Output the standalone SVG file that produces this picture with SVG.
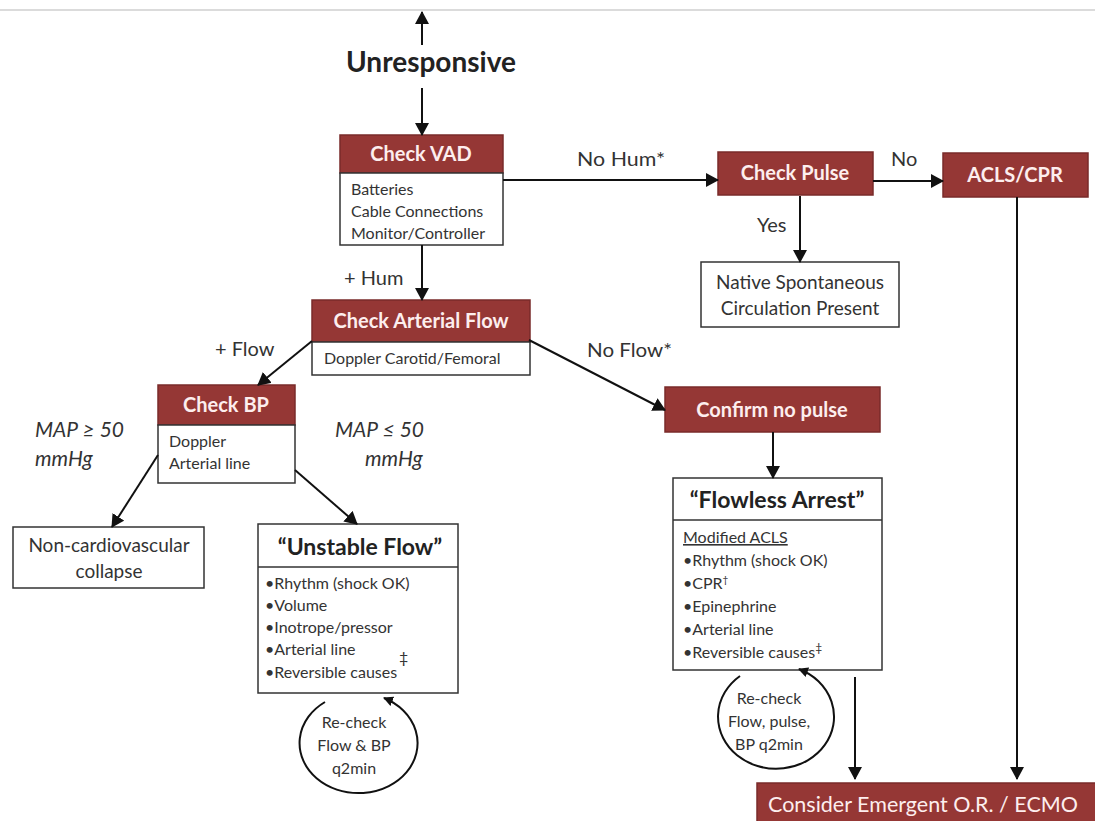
<svg xmlns="http://www.w3.org/2000/svg" width="1095" height="821" viewBox="0 0 1095 821">
<defs>
<marker id="ah" markerUnits="userSpaceOnUse" markerWidth="14" markerHeight="14" refX="12" refY="7" orient="auto">
<path d="M0,0 L13,7 L0,14 Z" fill="#111"/>
</marker>
<marker id="ahs" markerUnits="userSpaceOnUse" markerWidth="10" markerHeight="10" refX="9" refY="5" orient="auto">
<path d="M0,0 L10,5 L0,10 Z" fill="#111"/>
</marker>
<style>
.hd{fill:#953735;stroke:#7a2b2a;stroke-width:1.5}
.bx{fill:#fff;stroke:#333;stroke-width:1.5}
.ht{font-family:Lato,"Liberation Sans",sans-serif;font-weight:bold;font-size:20px;fill:#fdeeee;text-anchor:middle}
.bt{font-family:Lato,"Liberation Sans",sans-serif;font-size:16px;fill:#333}
.ct{font-family:Lato,"Liberation Sans",sans-serif;font-size:19px;fill:#333;text-anchor:middle}
.rc{font-family:Lato,"Liberation Sans",sans-serif;font-size:16px;fill:#333;text-anchor:middle}
.lb{font-family:Lato,"Liberation Sans",sans-serif;font-size:20px;fill:#333}
.it{font-family:Lato,"Liberation Sans",sans-serif;font-size:21px;font-style:italic;fill:#333}
.tt{font-family:Lato,"Liberation Sans",sans-serif;font-weight:bold;font-size:23px;fill:#222;text-anchor:middle}
.cn line,.cn path{stroke:#111;stroke-width:2;fill:none}
</style>
</defs>
<rect width="1095" height="821" fill="#fff"/>
<line x1="0" y1="10" x2="1095" y2="10" stroke="#cfcfcf" stroke-width="1.5"/>

<g id="unresponsive">
<text x="431" y="72" font-family="Lato,'Liberation Sans',sans-serif" font-weight="bold" font-size="28" fill="#222" text-anchor="middle">Unresponsive</text>
</g>

<g id="check-vad">
<rect class="hd" x="340" y="135" width="163" height="38"/>
<text class="ht" x="421" y="161">Check VAD</text>
<rect class="bx" x="340" y="173" width="163" height="72"/>
<text class="bt" x="351" y="195">Batteries</text>
<text class="bt" x="351" y="217">Cable Connections</text>
<text class="bt" x="351" y="239">Monitor/Controller</text>
</g>

<g id="check-pulse">
<rect class="hd" x="718" y="152" width="155" height="43"/>
<text class="ht" x="795" y="180">Check Pulse</text>
</g>

<g id="acls-cpr">
<rect class="hd" x="943" y="153" width="145" height="44"/>
<text class="ht" x="1015" y="182">ACLS/CPR</text>
</g>

<g id="native">
<rect class="bx" x="701" y="262" width="198" height="65"/>
<text class="ct" x="800" y="289">Native Spontaneous</text>
<text class="ct" x="800" y="315">Circulation Present</text>
</g>

<g id="check-arterial-flow">
<rect class="hd" x="312" y="300" width="218" height="42"/>
<text class="ht" x="421" y="328">Check Arterial Flow</text>
<rect class="bx" x="312" y="342" width="218" height="33"/>
<text class="bt" x="324" y="364">Doppler Carotid/Femoral</text>
</g>

<g id="check-bp">
<rect class="hd" x="158" y="385" width="137" height="40"/>
<text class="ht" x="226" y="412">Check BP</text>
<rect class="bx" x="158" y="425" width="137" height="58"/>
<text class="bt" x="169" y="447">Doppler</text>
<text class="bt" x="169" y="469">Arterial line</text>
</g>

<g id="non-cardio">
<rect class="bx" x="13" y="527" width="191" height="61"/>
<text class="ct" x="109" y="552">Non-cardiovascular</text>
<text class="ct" x="109" y="578">collapse</text>
</g>

<g id="unstable-flow">
<rect class="bx" x="258" y="524" width="200" height="169"/>
<line x1="258" y1="567" x2="458" y2="567" stroke="#333" stroke-width="1.5"/>
<text class="tt" x="360" y="555">“Unstable Flow”</text>
<text class="bt" x="265" y="589">•Rhythm (shock OK)</text>
<text class="bt" x="265" y="611">•Volume</text>
<text class="bt" x="265" y="633">•Inotrope/pressor</text>
<text class="bt" x="265" y="655">•Arterial line</text>
<text class="bt" x="265" y="678">•Reversible causes</text>
<text class="bt" x="399" y="663">‡</text>
</g>

<g id="recheck-1">
<text class="rc" x="354" y="728">Re-check</text>
<text class="rc" x="354" y="751">Flow &amp; BP</text>
<text class="rc" x="354" y="774">q2min</text>
</g>

<g id="confirm-no-pulse">
<rect class="hd" x="665" y="387" width="215" height="45"/>
<text class="ht" x="772" y="417">Confirm no pulse</text>
</g>

<g id="flowless-arrest">
<rect class="bx" x="673" y="478" width="209" height="192"/>
<line x1="673" y1="520" x2="882" y2="520" stroke="#333" stroke-width="1.5"/>
<text class="tt" x="777" y="508">“Flowless Arrest”</text>
<text class="bt" x="683" y="543" text-decoration="underline">Modified ACLS</text>
<text class="bt" x="683" y="566">•Rhythm (shock OK)</text>
<text class="bt" x="683" y="589">•CPR<tspan font-size="10" dy="-6">†</tspan></text>
<text class="bt" x="683" y="612">•Epinephrine</text>
<text class="bt" x="683" y="635">•Arterial line</text>
<text class="bt" x="683" y="658">•Reversible causes<tspan font-size="12" dy="-6">‡</tspan></text>
</g>

<g id="recheck-2">
<text class="rc" x="769" y="704">Re-check</text>
<text class="rc" x="769" y="727">Flow, pulse,</text>
<text class="rc" x="769" y="750">BP q2min</text>
</g>

<g id="consider-emergent">
<rect class="hd" x="757" y="783" width="340" height="40"/>
<text x="923" y="812" font-family="Lato,'Liberation Sans',sans-serif" font-size="22" fill="#fdeeee" text-anchor="middle" textLength="310" lengthAdjust="spacingAndGlyphs">Consider Emergent O.R. / ECMO</text>
</g>

<g id="labels">
<text class="lb" x="577" y="166" textLength="88" lengthAdjust="spacingAndGlyphs">No Hum*</text>
<text class="lb" x="891" y="166">No</text>
<text class="lb" x="757" y="232">Yes</text>
<text class="lb" x="344" y="285">+ Hum</text>
<text class="lb" x="215" y="356">+ Flow</text>
<text class="lb" x="587" y="357" textLength="85" lengthAdjust="spacingAndGlyphs">No Flow*</text>
<text class="it" x="35" y="437">MAP ≥ 50</text>
<text class="it" x="35" y="466">mmHg</text>
<text class="it" x="335" y="437">MAP ≤ 50</text>
<text class="it" x="365" y="466">mmHg</text>
</g>

<g id="connectors" class="cn">
<line x1="422" y1="45" x2="422" y2="12" marker-end="url(#ah)"/>
<line x1="422" y1="88" x2="422" y2="135" marker-end="url(#ah)"/>
<line x1="503" y1="180" x2="718" y2="180" marker-end="url(#ah)"/>
<line x1="873" y1="181" x2="943" y2="181" marker-end="url(#ah)"/>
<line x1="800" y1="196" x2="800" y2="262" marker-end="url(#ah)"/>
<line x1="1017" y1="197" x2="1017" y2="779" marker-end="url(#ah)"/>
<line x1="422" y1="245" x2="422" y2="300" marker-end="url(#ah)"/>
<line x1="312" y1="341" x2="258" y2="385" marker-end="url(#ah)"/>
<line x1="529" y1="340" x2="665" y2="410" marker-end="url(#ah)"/>
<line x1="158" y1="455" x2="112" y2="527" marker-end="url(#ah)"/>
<line x1="295" y1="470" x2="357" y2="524" marker-end="url(#ah)"/>
<line x1="773" y1="432" x2="773" y2="478" marker-end="url(#ah)"/>
<line x1="855" y1="677" x2="855" y2="779" marker-end="url(#ah)"/>
<path d="M325,702 A59,50 0 1 0 384,698" stroke-width="1.5" marker-end="url(#ahs)"/>
<path d="M740,676 A58,52 0 1 0 799,669" stroke-width="1.5" marker-end="url(#ahs)"/>
</g>
</svg>
